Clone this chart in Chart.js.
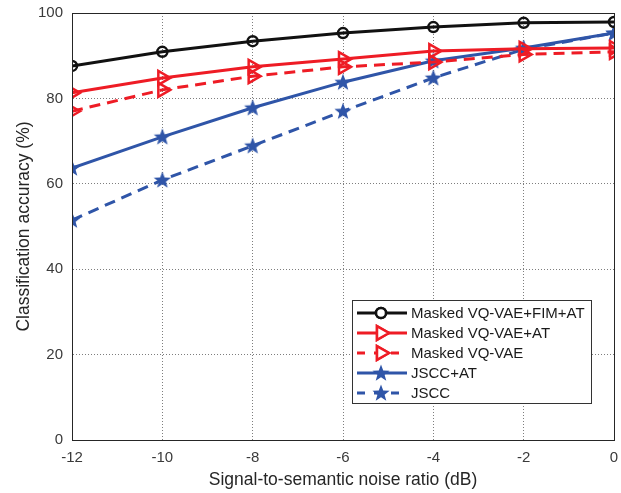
<!DOCTYPE html>
<html><head><meta charset="utf-8">
<script src="https://cdn.jsdelivr.net/npm/chart.js@4"></script>
<style>html,body{margin:0;padding:0;background:#fff}#wrap{width:621px;height:493px}</style>
</head><body><div id="wrap"><canvas id="c" width="621" height="493"></canvas></div>
<script>
const snr = [-12, -10, -8, -6, -4, -2, 0];
const maskedFimAt = [87.6, 90.9, 93.4, 95.3, 96.7, 97.7, 97.9];
const maskedAt = [81.3, 84.8, 87.4, 89.2, 91.1, 91.6, 91.8];
const masked = [77.0, 82.0, 85.2, 87.4, 88.5, 90.3, 90.9];
const jsccAt = [63.7, 71.0, 77.8, 83.8, 88.8, 91.8, 95.3];
const jscc = [51.5, 60.9, 68.9, 77.0, 84.8, 91.5, 95.3];
const seriesNames = ['Masked VQ-VAE+FIM+AT', 'Masked VQ-VAE+AT', 'Masked VQ-VAE', 'JSCC+AT', 'JSCC'];
const xTicks = [-12, -10, -8, -6, -4, -2, 0];
const yTicks = [0, 20, 40, 60, 80, 100];

const BLACK = '#111111', RED = '#ee1c25', BLUE = '#2f55a8';
const FONT = '"Liberation Sans", Arial, sans-serif';
function starImg(color, r) {
  const s = Math.ceil(r * 2 + 2);
  const cv = document.createElement('canvas'); cv.width = s; cv.height = s;
  const g = cv.getContext('2d');
  g.translate(s / 2, s / 2 + 0.5);
  g.beginPath();
  for (let i = 0; i < 10; i++) {
    const rr = i % 2 === 0 ? r : r * 0.42;
    const a = -Math.PI / 2 + i * Math.PI / 5;
    const px = rr * Math.cos(a), py = rr * Math.sin(a);
    i === 0 ? g.moveTo(px, py) : g.lineTo(px, py);
  }
  g.closePath(); g.fillStyle = color; g.fill();
  return cv;
}
const star = starImg(BLUE, 9);
const toPts = arr => snr.map((x, i) => ({ x, y: arr[i] }));

const datasets = [
  { label: seriesNames[0], data: toPts(maskedFimAt), borderColor: BLACK, backgroundColor: 'rgba(0,0,0,0)', pointStyle: 'circle', pointRadius: 5, pointBorderWidth: 2.5, borderWidth: 3, pointBorderColor: BLACK, rotation: 0 },
  { label: seriesNames[1], data: toPts(maskedAt), borderColor: RED, backgroundColor: 'rgba(0,0,0,0)', pointStyle: 'triangle', rotation: 90, pointRadius: 8, pointBorderWidth: 2.5, borderWidth: 3, pointBorderColor: RED },
  { label: seriesNames[2], data: toPts(masked), borderColor: RED, backgroundColor: 'rgba(0,0,0,0)', pointStyle: 'triangle', rotation: 90, pointRadius: 8, pointBorderWidth: 2.5, borderWidth: 3, borderDash: [11, 7], pointBorderColor: RED },
  { label: seriesNames[3], data: toPts(jsccAt), borderColor: BLUE, backgroundColor: BLUE, pointStyle: star, pointRadius: 9, borderWidth: 3 },
  { label: seriesNames[4], data: toPts(jscc), borderColor: BLUE, backgroundColor: BLUE, pointStyle: star, pointRadius: 9, borderWidth: 3, borderDash: [11, 7] }
];

const boxPlugin = {
  id: 'box',
  afterDraw(chart) {
    const { ctx, chartArea: a } = chart;
    ctx.save();
    ctx.strokeStyle = '#262626'; ctx.lineWidth = 1; ctx.setLineDash([]);
    ctx.strokeRect(Math.round(a.left) + 0.5, Math.round(a.top) + 0.5, Math.round(a.right - a.left), Math.round(a.bottom - a.top));
    // legend
    const lx = 352, ly = 300, lw = 239, lh = 103;
    ctx.fillStyle = '#fff'; ctx.fillRect(lx, ly, lw, lh);
    ctx.strokeStyle = '#333'; ctx.strokeRect(lx + 0.5, ly + 0.5, lw, lh);
    ctx.font = '15px ' + FONT;
    ctx.textBaseline = 'middle'; ctx.fillStyle = '#1a1a1a';
    chart.data.datasets.forEach((d, i) => {
      const y = 313 + i * 20;
      ctx.strokeStyle = d.borderColor; ctx.lineWidth = 3;
      ctx.setLineDash(d.borderDash ? [8, 9] : []);
      ctx.beginPath(); ctx.moveTo(357, y); ctx.lineTo(407, y); ctx.stroke();
      ctx.setLineDash([]);
      if (d.pointStyle === star) {
        ctx.drawImage(star, 381 - star.width / 2, y - star.height / 2);
      } else {
        ctx.lineWidth = 2.5;
        Chart.helpers.drawPoint(ctx, { pointStyle: d.pointStyle, rotation: d.rotation || 0, radius: d.pointRadius, borderWidth: 2.5 }, 381, y);
        ctx.fillStyle = '#fff';
        ctx.fill(); ctx.stroke();
        ctx.fillStyle = '#1a1a1a';
      }
      ctx.fillText(d.label, 411, y + 1);
    });
    ctx.restore();
  }
};

const tickFont = { family: FONT, size: 15 };
const titleFont = { family: FONT, size: 17.5 };
new Chart(document.getElementById('c'), {
  type: 'line',
  data: { datasets },
  options: {
    responsive: false, animation: false,
    layout: { autoPadding: false, padding: { left: 14, right: 7, top: 13, bottom: 0 } },
    plugins: { legend: { display: false }, tooltip: { enabled: false } },
    elements: { line: { tension: 0 }, point: { backgroundColor: '#fff' } },
    scales: {
      x: {
        type: 'linear', min: -12, max: 0,
        afterBuildTicks: s => { s.ticks = xTicks.map(v => ({ value: v })); },
        afterFit: s => { s.height = 53; s.paddingLeft = 0; s.paddingRight = 0; },
        ticks: { font: tickFont, color: '#3a3a3a', padding: 0, maxRotation: 0 },
        grid: { color: 'rgba(40,40,40,0.6)', lineWidth: 1, drawTicks: true, tickLength: 9, tickColor: 'rgba(0,0,0,0)' },
        border: { color: '#262626', dash: [1, 2] },
        title: { display: true, text: 'Signal-to-semantic noise ratio (dB)', font: titleFont, color: '#262626', padding: { top: 0, bottom: 2.5 } }
      },
      y: {
        min: 0, max: 100,
        afterBuildTicks: s => { s.ticks = yTicks.map(v => ({ value: v })); },
        afterFit: s => { s.width = 58; s.paddingTop = 0; s.paddingBottom = 0; },
        ticks: { font: tickFont, color: '#3a3a3a', padding: 9 },
        grid: { color: 'rgba(40,40,40,0.6)', lineWidth: 1, drawTicks: false },
        border: { color: '#262626', dash: [1, 2] },
        title: { display: true, text: 'Classification accuracy (%)', font: titleFont, color: '#262626', padding: { top: 0, bottom: 0 } }
      }
    }
  },
  plugins: [boxPlugin]
});
</script>
</body></html>
